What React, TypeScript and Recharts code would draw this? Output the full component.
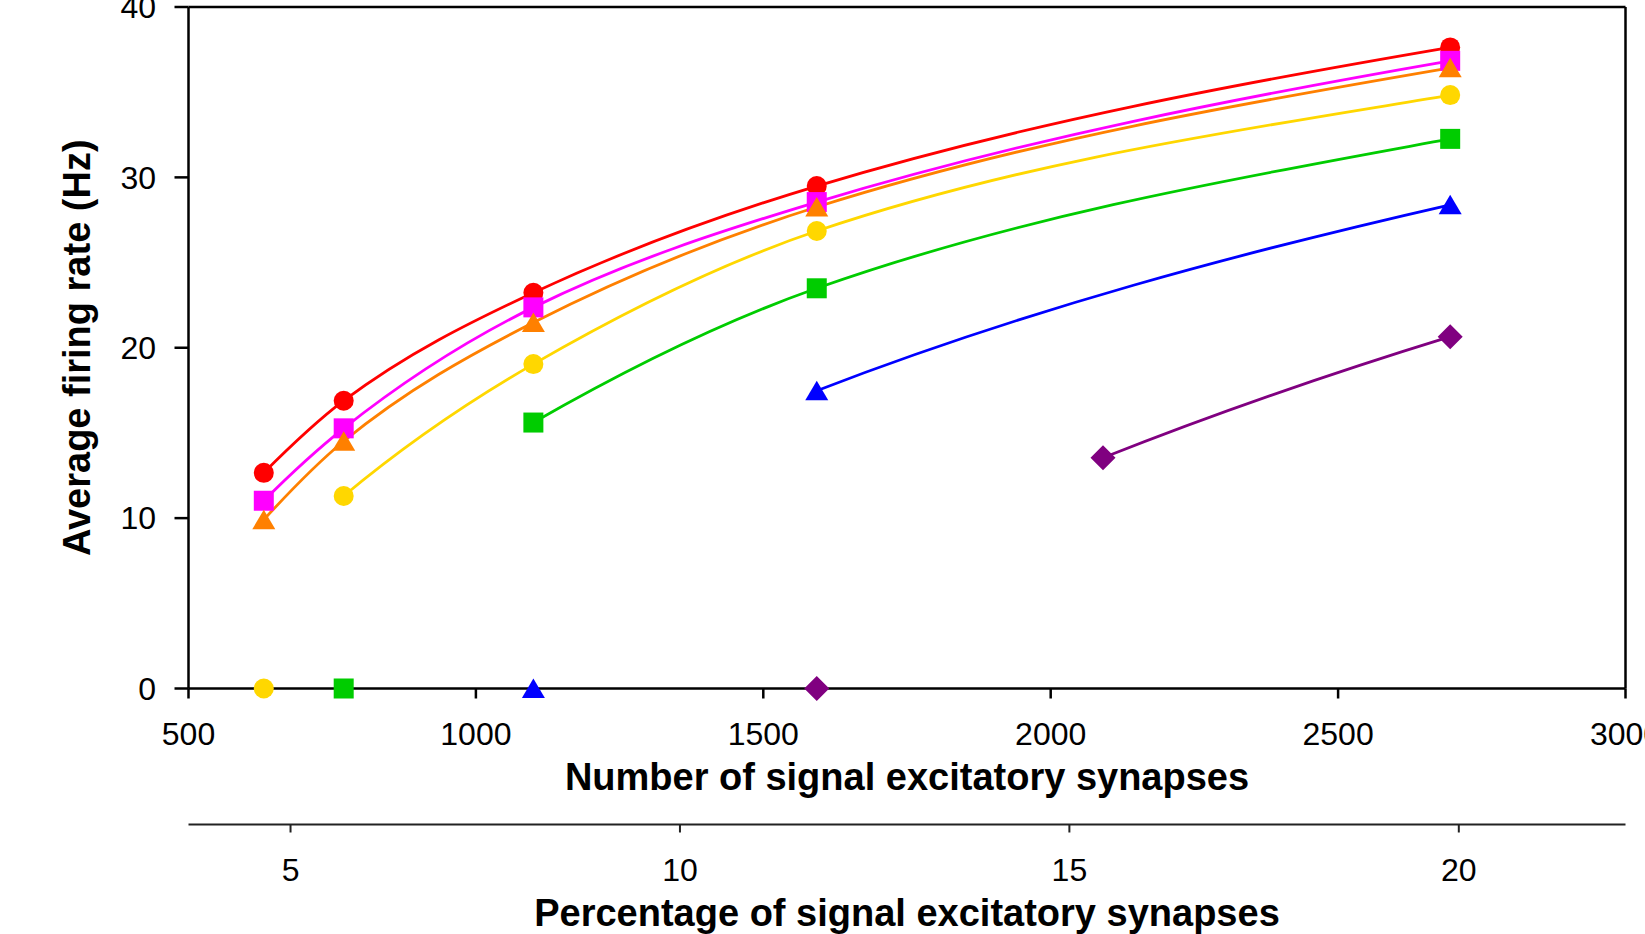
import React from 'react';
import {
  ComposedChart,
  Line,
  Scatter,
  XAxis,
  YAxis,
  ReferenceLine,
} from 'recharts';

// Number of signal excitatory synapses at which each condition was simulated
const synapseCounts = [631, 770, 1100, 1593, 2091, 2695];

// Average firing rate (Hz) per condition; 0 = neuron silent, null = not simulated
const ratesRed = [12.66, 16.89, 23.23, 29.49, null, 37.63];
const ratesMagenta = [11.02, 15.27, 22.37, 28.55, null, 36.84];
const ratesOrange = [9.91, 14.51, 21.48, 28.26, null, 36.43];
const ratesYellow = [0, 11.3, 19.04, 26.85, null, 34.83];
const ratesGreen = [null, 0, 15.61, 23.49, null, 32.26];
const ratesBlue = [null, null, 0, 17.48, null, 28.39];
const ratesPurple = [null, null, null, 0, 13.54, 20.65];

// Total excitatory synapses on the cell (for the percentage axis)
const TOTAL_EXC_SYNAPSES = 13550;

const synapseTicks = [500, 1000, 1500, 2000, 2500, 3000];
const percentTicks = [5, 10, 15, 20];
const rateTicks = [0, 10, 20, 30, 40];

const X_MIN = 500;
const X_MAX = 3000;
const Y_MIN = 0;
const Y_MAX = 40;

// Axis ids: 0 = synapse count (next to the plot), 1 = percentage (below it)
const SYN_AXIS = 0;
const PCT_AXIS = 1;

// Layout
const W = 1645;
const H = 934;
const PLOT_LEFT = 188.5;
const PLOT_RIGHT = 1625.5;
const PLOT_TOP = 7;
const PLOT_BOTTOM = 688.5;
const PCT_AXIS_Y = 824.5;
const FONT = '"Liberation Sans", Arial, Helvetica, sans-serif';

// Screen x of a synapse count of zero, used by the log-shaped curve
const ORIGIN_PX = PLOT_LEFT - (X_MIN * (PLOT_RIGHT - PLOT_LEFT)) / (X_MAX - X_MIN);

type Shape = 'circle' | 'square' | 'triangle' | 'diamond';

const series: { id: string; rates: (number | null)[]; color: string; shape: Shape }[] = [
  { id: 'red', rates: ratesRed, color: '#FF0000', shape: 'circle' },
  { id: 'magenta', rates: ratesMagenta, color: '#FF00FF', shape: 'square' },
  { id: 'orange', rates: ratesOrange, color: '#FF8000', shape: 'triangle' },
  { id: 'yellow', rates: ratesYellow, color: '#FFD700', shape: 'circle' },
  { id: 'green', rates: ratesGreen, color: '#00CC00', shape: 'square' },
  { id: 'blue', rates: ratesBlue, color: '#0000FF', shape: 'triangle' },
  { id: 'purple', rates: ratesPurple, color: '#800080', shape: 'diamond' },
];

// Curve whose segments follow a logarithmic shape in the synapse count
function logCurve(context: any) {
  let xs: number[] = [];
  let ys: number[] = [];
  return {
    areaStart() {},
    areaEnd() {},
    lineStart() {
      xs = [];
      ys = [];
    },
    lineEnd() {
      const n = xs.length;
      if (n === 0) return;
      context.moveTo(xs[0], ys[0]);
      if (n === 1) return;
      const u = xs.map((x) => x - ORIGIN_PX);
      const B: number[] = [];
      for (let i = 0; i < n - 1; i++) {
        B.push((ys[i + 1] - ys[i]) / Math.log(u[i + 1] / u[i]));
      }
      const m = u.map((ui, i) => {
        const bl = i > 0 ? B[i - 1] : B[i];
        const br = i < n - 1 ? B[i] : B[i - 1];
        return (bl + br) / 2 / ui;
      });
      for (let i = 0; i < n - 1; i++) {
        const dx = xs[i + 1] - xs[i];
        context.bezierCurveTo(
          xs[i] + dx / 3,
          ys[i] + (m[i] * dx) / 3,
          xs[i + 1] - dx / 3,
          ys[i + 1] - (m[i + 1] * dx) / 3,
          xs[i + 1],
          ys[i + 1]
        );
      }
    },
    point(x: number, y: number) {
      xs.push(+x);
      ys.push(+y);
    },
  };
}

function Marker({ shape, color, cx, cy }: { shape: Shape; color: string; cx: number; cy: number }) {
  if (cx == null || cy == null || isNaN(cx) || isNaN(cy)) return <g />;
  switch (shape) {
    case 'circle':
      return <circle cx={cx} cy={cy} r={10} fill={color} />;
    case 'square':
      return <rect x={cx - 10} y={cy - 10} width={20} height={20} fill={color} />;
    case 'triangle':
      return (
        <polygon
          points={`${cx},${cy - 10} ${cx + 11.5},${cy + 9.5} ${cx - 11.5},${cy + 9.5}`}
          fill={color}
        />
      );
    case 'diamond':
      return (
        <polygon
          points={`${cx},${cy - 12.5} ${cx + 12.5},${cy} ${cx},${cy + 12.5} ${cx - 12.5},${cy}`}
          fill={color}
        />
      );
  }
  return <g />;
}

const tickStyle = { fill: '#000', fontSize: 32, fontFamily: FONT };
const titleStyle = { fill: '#000', fontSize: 38, fontWeight: 700, fontFamily: FONT };

function XTitle(text: string, bottomOffset: number) {
  return (props: any) => {
    const vb = props.viewBox || {};
    return (
      <text
        x={vb.x + vb.width / 2}
        y={vb.y + vb.height - bottomOffset}
        textAnchor="middle"
        {...titleStyle}
      >
        {text}
      </text>
    );
  };
}

function YTitle(props: any) {
  const vb = props.viewBox || {};
  const cy = vb.y + vb.height / 2;
  const bx = 90;
  return (
    <text x={bx} y={cy} transform={`rotate(-90 ${bx} ${cy})`} textAnchor="middle" {...titleStyle}>
      Average firing rate (Hz)
    </text>
  );
}

export default function App() {
  const prepared = series.map((s) => {
    const pts = synapseCounts
      .map((syn, i) => ({ syn, pct: (syn / TOTAL_EXC_SYNAPSES) * 100, rate: s.rates[i] }))
      .filter((p) => p.rate !== null) as { syn: number; pct: number; rate: number }[];
    return {
      ...s,
      firing: pts.filter((p) => p.rate > 0),
      silent: pts.filter((p) => p.rate === 0),
    };
  });

  return (
    <div style={{ position: 'absolute', left: 0, top: 0, width: W, height: H, overflow: 'hidden', background: '#fff' }}>
      <ComposedChart
        width={W}
        height={H}
        margin={{ top: PLOT_TOP, right: W - PLOT_RIGHT, bottom: 0, left: 0 }}
      >
        <XAxis
          xAxisId={SYN_AXIS}
          dataKey="syn"
          type="number"
          domain={[X_MIN, X_MAX]}
          ticks={synapseTicks}
          interval={0}
          height={PCT_AXIS_Y - PLOT_BOTTOM}
          tickSize={10}
          tickMargin={24}
          tick={tickStyle}
          axisLine={{ stroke: '#000', strokeWidth: 2.5 }}
          tickLine={{ stroke: '#000', strokeWidth: 2.5 }}
          label={{ content: XTitle('Number of signal excitatory synapses', 34.5) }}
        />
        <XAxis
          xAxisId={PCT_AXIS}
          dataKey="pct"
          type="number"
          domain={[(X_MIN / TOTAL_EXC_SYNAPSES) * 100, (X_MAX / TOTAL_EXC_SYNAPSES) * 100]}
          ticks={percentTicks}
          interval={0}
          allowDataOverflow
          height={H - PCT_AXIS_Y}
          tickSize={8}
          tickMargin={26}
          tick={tickStyle}
          axisLine={{ stroke: '#222', strokeWidth: 2 }}
          tickLine={{ stroke: '#222', strokeWidth: 2 }}
          label={{ content: XTitle('Percentage of signal excitatory synapses', 8) }}
        />
        <YAxis
          dataKey="rate"
          type="number"
          domain={[Y_MIN, Y_MAX]}
          ticks={rateTicks}
          interval={0}
          width={PLOT_LEFT}
          tickSize={14}
          tickMargin={18.5}
          tick={tickStyle}
          axisLine={{ stroke: '#000', strokeWidth: 2.5 }}
          tickLine={{ stroke: '#000', strokeWidth: 2.5 }}
          label={{ content: YTitle }}
        />
        <ReferenceLine xAxisId={SYN_AXIS} y={Y_MAX} stroke="#000" strokeWidth={2.5} />
        <ReferenceLine xAxisId={SYN_AXIS} x={X_MAX} stroke="#000" strokeWidth={2.5} />

        {prepared.map((s) => (
          <Line
            key={`line-${s.id}`}
            xAxisId={SYN_AXIS}
            data={s.firing}
            dataKey="rate"
            type={logCurve as any}
            stroke={s.color}
            strokeWidth={2.8}
            isAnimationActive={false}
            activeDot={false}
            dot={(p: any) => (
              <Marker key={`dot-${s.id}-${p.index}`} shape={s.shape} color={s.color} cx={p.cx} cy={p.cy} />
            )}
          />
        ))}
        {prepared.map((s) => (
          <Scatter
            key={`silent-${s.id}`}
            xAxisId={SYN_AXIS}
            data={s.silent}
            dataKey="rate"
            isAnimationActive={false}
            shape={(p: any) => <Marker shape={s.shape} color={s.color} cx={p.cx} cy={p.cy} />}
          />
        ))}
      </ComposedChart>
    </div>
  );
}
